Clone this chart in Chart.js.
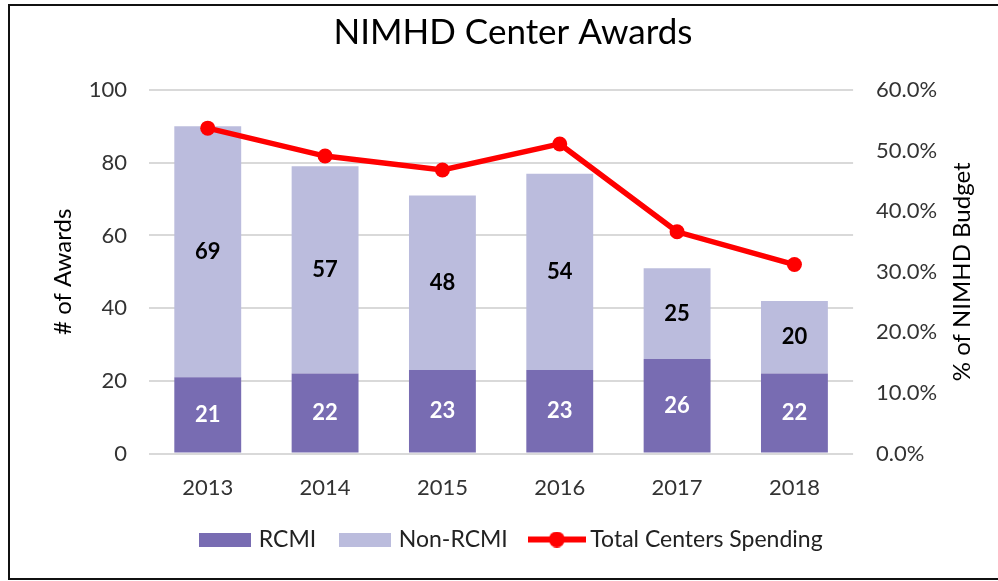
<!DOCTYPE html>
<html>
<head>
<meta charset="utf-8">
<script src="https://cdn.jsdelivr.net/npm/chart.js@4.4.1/dist/chart.umd.min.js"></script>
<style>
  body { margin: 0; background: #fff; }
  #wrap { position: relative; width: 998px; height: 581px; overflow: hidden; }
  #frame { position: absolute; left: 8px; top: 4px; width: 1000px; height: 572px;
           border-top: 2px solid #111; border-left: 2px solid #111; border-bottom: 2px solid #111; }
  canvas { position: absolute; left: 0; top: 0; }
</style>
</head>
<body>
<div id="wrap">
  <canvas id="awardsChart" width="998" height="581"></canvas>
  <div id="frame"></div>
</div>
<script>
/*NIMHD CENTER AWARDS*/
const years = ['2013', '2014', '2015', '2016', '2017', '2018'];
const rcmi = [21, 22, 23, 23, 26, 22];
const nonRcmi = [69, 57, 48, 54, 25, 20];
const spending = [0.537, 0.491, 0.468, 0.511, 0.366, 0.312];

const fontFam = 'Lato, "Open Sans", sans-serif';
const rightTitle = '% of NIMHD Budget';

// swatches for the legend
function swatch(color) {
    let c = document.createElement('canvas');
    c.width = 52; c.height = 14;
    let g = c.getContext('2d');
    g.fillStyle = color;
    g.fillRect(0, 0, 52, 14);
    return c;
}
function lineSwatch(color) {
    let c = document.createElement('canvas');
    c.width = 58; c.height = 16;
    let g = c.getContext('2d');
    g.fillStyle = color;
    g.fillRect(0, 5, 58, 6);
    g.beginPath();
    g.arc(29, 8, 8, 0, Math.PI * 2);
    g.fill();
    return c;
}

// numbers inside the bars
const barLabels = {
    id: 'barLabels',
    afterDatasetsDraw(chart) {
        let ctx = chart.ctx;
        ctx.save();
        ctx.font = 'bold 22px ' + fontFam;
        ctx.textAlign = 'center';
        ctx.textBaseline = 'middle';
        chart.data.datasets.forEach((ds, i) => {
            if (ds.type !== 'bar') return;
            let meta = chart.getDatasetMeta(i);
            ctx.fillStyle = ds.labelColor;
            meta.data.forEach((bar, j) => {
                ctx.fillText(ds.data[j], bar.x, (bar.y + bar.base) / 2);
            });
        });
        ctx.restore();
    }
};

// right axis title reads bottom-to-top in the original, chart.js turns it the other way
const rightTitleUp = {
    id: 'rightTitleUp',
    afterDraw(chart) {
        let sc = chart.scales.y1;
        let ctx = chart.ctx;
        ctx.save();
        ctx.font = '24px ' + fontFam;
        ctx.fillStyle = '#000';
        ctx.textAlign = 'center';
        ctx.textBaseline = 'middle';
        ctx.translate(sc.right - 14.4, (chart.chartArea.top + chart.chartArea.bottom) / 2);
        ctx.rotate(-Math.PI / 2);
        ctx.fillText(rightTitle, 0, 0);
        ctx.restore();
    }
};

let ctx = document.getElementById('awardsChart').getContext('2d');
let awardsChart = new Chart(ctx, {
    data: {
        labels: years,
        datasets: [{
            type: 'line',
            label: 'Total Centers Spending',
            data: spending,
            yAxisID: 'y1',
            borderColor: '#FF0000',
            backgroundColor: '#FF0000',
            borderWidth: 5.5,
            pointRadius: 7.5,
            pointBackgroundColor: '#FF0000',
            pointBorderWidth: 0,
            tension: 0,
            order: 0
        }, {
            type: 'bar',
            label: 'RCMI',
            data: rcmi,
            backgroundColor: '#786CB2',
            labelColor: '#FFFFFF',
            barPercentage: 0.57,
            categoryPercentage: 1,
            order: 1
        }, {
            type: 'bar',
            label: 'Non-RCMI',
            data: nonRcmi,
            backgroundColor: '#BBBCDD',
            labelColor: '#000000',
            barPercentage: 0.57,
            categoryPercentage: 1,
            order: 1
        }]
    },
    options: {
        responsive: false,
        animation: false,
        layout: { padding: { left: 49, right: 21, top: 4, bottom: 20 } },
        plugins: {
            title: {
                display: true,
                text: 'NIMHD Center Awards',
                color: '#000',
                font: { family: fontFam, size: 35, weight: 'normal' },
                padding: { top: 8, bottom: 36 }
            },
            legend: {
                position: 'bottom',
                labels: {
                    usePointStyle: true,
                    pointStyleWidth: 44,
                    padding: 27,
                    color: '#222',
                    font: { family: fontFam, size: 23 },
                    generateLabels(chart) {
                        let items = Chart.defaults.plugins.legend.labels.generateLabels(chart);
                        items.sort((a, b) => {
                            let ia = a.datasetIndex === 0 ? 9 : a.datasetIndex;
                            let ib = b.datasetIndex === 0 ? 9 : b.datasetIndex;
                            return ia - ib;
                        });
                        items.forEach(it => {
                            let ds = chart.data.datasets[it.datasetIndex];
                            it.pointStyle = ds.type === 'line' ? lineSwatch(ds.borderColor) : swatch(ds.backgroundColor);
                        });
                        return items;
                    }
                }
            },
            tooltip: { enabled: false }
        },
        scales: {
            x: {
                stacked: true,
                grid: { display: false, tickLength: 21 },
                border: { display: false },
                ticks: { color: '#333', font: { family: fontFam, size: 22 }, padding: 0 }
            },
            y: {
                stacked: true,
                min: 0,
                max: 100,
                ticks: { stepSize: 20, color: '#333', font: { family: fontFam, size: 22 }, padding: 22 },
                grid: { color: '#D9D9D9', lineWidth: 2, drawTicks: false },
                border: { display: false },
                title: { display: true, text: '# of Awards', color: '#000', font: { family: fontFam, size: 24 }, padding: { top: 0, bottom: -11 } }
            },
            y1: {
                position: 'right',
                min: 0,
                max: 0.6,
                ticks: {
                    stepSize: 0.1,
                    color: '#333',
                    font: { family: fontFam, size: 22 },
                    padding: 23,
                    callback: v => (v * 100).toFixed(1) + '%'
                },
                grid: { display: false, drawTicks: false },
                border: { display: false },
                // space is kept here, the text itself is drawn by rightTitleUp
                title: { display: true, text: rightTitle, color: 'rgba(0,0,0,0)', font: { family: fontFam, size: 24 }, padding: { top: 0, bottom: -12 } }
            }
        }
    },
    plugins: [barLabels, rightTitleUp]
});
</script>
</body>
</html>
